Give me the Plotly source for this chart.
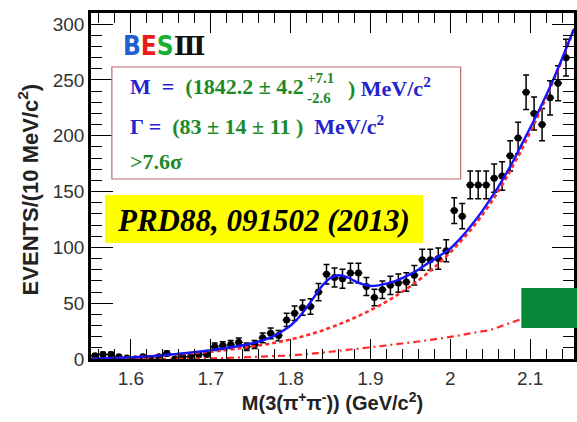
import plotly.graph_objects as go

# ---------------- data ----------------
mass = [1.555, 1.565, 1.575, 1.585, 1.595, 1.605, 1.615, 1.625, 1.635, 1.645,
        1.655, 1.665, 1.675, 1.685, 1.695, 1.705, 1.715, 1.725, 1.735, 1.745,
        1.755, 1.765, 1.775, 1.785, 1.795, 1.805, 1.815, 1.825, 1.835, 1.845,
        1.855, 1.865, 1.875, 1.885, 1.895, 1.905, 1.915, 1.925, 1.935, 1.945,
        1.955, 1.965, 1.975, 1.985, 1.995, 2.005, 2.015, 2.025, 2.035, 2.045,
        2.055, 2.065, 2.075, 2.085, 2.095, 2.105, 2.115, 2.125, 2.135, 2.145]
events = [3, 4, 4, 2, 1, 0, 2, 0, 2, 5,
          0, 2, 2, 4, 4, 11, 12, 13, 15, 11,
          13, 19, 23, 21, 35, 41, 46, 47, 60, 76,
          73, 72, 77, 77, 65, 55, 62, 66, 68, 69,
          75, 89, 89, 90, 97, 133, 128, 156, 156, 156,
          162, 164, 182, 198, 239, 220, 210, 234, 247, 270]
event_err = [1.7, 2.0, 2.0, 1.4, 1.0, 1.0, 1.4, 1.0, 1.4, 2.2,
             1.0, 1.4, 1.4, 2.0, 2.0, 3.3, 3.5, 3.6, 3.9, 3.3,
             3.6, 4.4, 4.8, 4.6, 5.9, 6.4, 6.8, 6.9, 7.7, 8.7,
             8.5, 8.5, 8.8, 8.8, 8.1, 7.4, 7.9, 8.1, 8.2, 8.3,
             8.7, 9.4, 9.4, 9.5, 9.8, 11.5, 11.3, 12.5, 12.5, 12.5,
             12.7, 12.8, 13.5, 14.1, 15.5, 14.8, 14.5, 15.3, 15.7, 16.4]
bin_half = [0.005] * 60

curve_mass = [1.55, 1.56, 1.57, 1.58, 1.59, 1.60, 1.61, 1.62, 1.63, 1.64,
              1.65, 1.66, 1.67, 1.68, 1.69, 1.70, 1.71, 1.72, 1.73, 1.74,
              1.75, 1.76, 1.77, 1.78, 1.79, 1.80, 1.81, 1.82, 1.83, 1.84,
              1.85, 1.86, 1.87, 1.88, 1.89, 1.90, 1.91, 1.92, 1.93, 1.94,
              1.95, 1.96, 1.97, 1.98, 1.99, 2.00, 2.01, 2.02, 2.03, 2.04,
              2.05, 2.06, 2.07, 2.08, 2.09, 2.10, 2.11, 2.12, 2.13, 2.14,
              2.15, 2.155]
total_fit = [0.3, 0.5, 0.7, 0.9, 1.2, 1.5, 1.9, 2.3, 2.8, 3.4,
             4.0, 4.7, 5.4, 6.2, 7.0, 8.0, 9.0, 10.0, 11.0, 12.3,
             13.8, 15.5, 18.0, 21.0, 25.0, 30.0, 37.0, 46.0, 56.0, 66.0,
             72.5, 75.0, 73.5, 70.0, 67.0, 65.5, 66.0, 67.5, 69.5, 72.5,
             76.0, 80.0, 85.0, 89.5, 94.0, 99.0, 106.0, 114.0, 123.0, 132.5,
             143.0, 154.0, 166.0, 179.0, 193.0, 207.0, 221.0, 236.0, 252.0, 269.0,
             287.0, 296.0]
background = [0.3, 0.5, 0.7, 0.9, 1.2, 1.5, 1.9, 2.3, 2.8, 3.2,
              3.7, 4.2, 4.8, 5.4, 6.0, 6.6, 7.3, 8.1, 9.0, 10.0,
              11.0, 12.1, 13.3, 14.6, 16.0, 17.6, 19.3, 21.2, 23.3, 25.6,
              28.2, 30.9, 33.8, 36.9, 40.2, 43.7, 47.4, 51.4, 55.7, 60.3,
              65.2, 70.4, 76.0, 82.0, 88.5, 95.5, 103.0, 111.0, 119.5, 129.0,
              139.0, 150.0, 162.0, 175.0, 188.5, 203.0, 218.0, 234.0, 250.5, 268.0,
              286.0, 295.0]
phase_space = [0.0, 0.0, 0.0, 0.0, 0.0, 0.0, 0.0, 0.0, 0.05, 0.1,
               0.15, 0.2, 0.3, 0.4, 0.5, 0.6, 0.8, 1.0, 1.2, 1.5,
               1.7, 2.0, 2.3, 2.6, 2.9, 3.2, 3.7, 4.3, 5.0, 5.7,
               6.5, 7.3, 8.1, 8.9, 9.7, 10.5, 11.3, 12.1, 13.0, 13.9,
               14.8, 15.7, 16.6, 17.6, 18.7, 19.8, 21.0, 22.3, 23.6, 24.8,
               26.0, 28.5, 31.0, 33.5, 36.0, 38.5, 41.0, 43.5, 46.0, 48.5,
               51.0, 52.0]

# ---------------- figure ----------------
W, H = 577, 422
L, R, T, B = 91, 0, 13, 63

def fx(p):  # pixel x -> paper
    return (p - L) / (W - L - R)

def fy(p):  # pixel y -> paper
    return (H - B - p) / (H - B - T)

fig = go.Figure()

fig.add_trace(go.Scatter(
    x=mass, y=events, mode="markers",
    marker=dict(color="black", size=7, symbol="circle"),
    error_y=dict(type="data", array=event_err, color="black", thickness=1.5, width=3),
    error_x=dict(type="data", array=bin_half, color="black", thickness=1.5, width=0),
    showlegend=False))

fig.add_trace(go.Scatter(
    x=curve_mass, y=phase_space, mode="lines", line_shape="spline",
    line=dict(color="#ff2a2a", width=2.2, dash="7px,4px,2px,4px"), showlegend=False))
fig.add_trace(go.Scatter(
    x=curve_mass, y=background, mode="lines", line_shape="spline",
    line=dict(color="#ff2a2a", width=2.6, dash="4px,3px"), showlegend=False))
fig.add_trace(go.Scatter(
    x=curve_mass, y=total_fit, mode="lines", line_shape="spline",
    line=dict(color="#1414ff", width=2.4), showlegend=False))

tickfont = dict(family="Liberation Sans, Arial, sans-serif", size=19, color="#333333")
titlefont = dict(family="Liberation Sans, Arial, sans-serif", size=20, color="#222222")

fig.update_xaxes(
    range=[1.55, 2.155], dtick=0.1, tick0=1.6,
    ticks="inside", ticklen=20, tickwidth=1.3, tickcolor="black",
    minor=dict(dtick=0.02, ticks="inside", ticklen=10, tickwidth=1.2, tickcolor="black"),
    showline=True, linewidth=3, linecolor="black", mirror="allticks",
    showgrid=False, zeroline=False, tickfont=tickfont,
    title=dict(text="<b>M(3(π<sup>+</sup>π<sup>-</sup>)) (GeV/c<sup>2</sup>)</b>",
               font=titlefont, standoff=6))
fig.update_yaxes(
    range=[0, 310], dtick=50, tick0=0,
    ticks="inside", ticklen=22, tickwidth=1.3, tickcolor="black",
    minor=dict(dtick=10, ticks="inside", ticklen=11, tickwidth=1.2, tickcolor="black"),
    showline=True, linewidth=2.5, linecolor="black", mirror="allticks",
    showgrid=False, zeroline=False, tickfont=tickfont)

shapes = [
    # result box
    dict(type="rect", xref="paper", yref="paper", x0=fx(112), x1=fx(463), y0=fy(67), y1=fy(179),
         line=dict(color="#c06a6a", width=1.2), fillcolor="white", layer="above"),
    # yellow reference box
    dict(type="rect", xref="paper", yref="paper", x0=fx(105), x1=fx(425), y0=fy(195), y1=fy(243),
         line=dict(width=0), fillcolor="#ffff00", layer="above"),
    # green block
    dict(type="rect", xref="paper", yref="paper", x0=fx(524), x1=fx(580), y0=fy(288), y1=fy(328),
         line=dict(width=0), fillcolor="#07873a", layer="above"),
]

BLUE = "#2424c8"
GREEN = "#1d8a2a"
serif = "Liberation Serif, Times New Roman, serif"
sp = "\u00a0"

def note(x, y, text, font, xanchor="left", angle=0, align="left"):
    return dict(x=fx(x), y=fy(y), xref="paper", yref="paper", text=text, font=font,
                showarrow=False, xanchor=xanchor, yanchor="middle", textangle=angle,
                align=align, borderpad=0)

annotations = [
    note(28, 189, "<b>EVENTS/(10 MeV/c<sup>2</sup>)</b>",
         dict(family="Liberation Sans, Arial, sans-serif", size=22, color="#222222"),
         xanchor="center", angle=-90, align="center"),
    note(122, 46,
         ("<span style='color:#1f5fd0'>B</span><span style='color:#e81c1c'>E</span>"
          "<span style='color:#18b030'>S</span><span style='color:#111111;font-family:DejaVu Serif'>Ⅲ</span>"),
         dict(family="Liberation Sans Narrow, DejaVu Sans Condensed, Liberation Sans", size=26,
              weight="bold")),
    note(129, 87,
         (f"<span style='color:{BLUE}'>M{sp}{sp}={sp}{sp}</span>"
          f"<span style='color:{GREEN}'>(1842.2 ± 4.2</span>"),
         dict(family=serif, size=22, weight="bold")),
    note(307, 88, "+7.1<br>-2.6", dict(family=serif, size=15, weight="bold", color=GREEN)),
    note(349, 87,
         (f"<span style='color:{GREEN}'>)</span>"
          f"<span style='color:{BLUE}'> MeV/c<sup>2</sup></span>"),
         dict(family=serif, size=22, weight="bold")),
    note(129, 125,
         (f"<span style='color:{BLUE}'>Γ ={sp}{sp}</span>"
          f"<span style='color:{GREEN}'>(83 ± 14 ± 11 )</span>"
          f"<span style='color:{BLUE}'>{sp}{sp}MeV/c<sup>2</sup></span>"),
         dict(family=serif, size=22, weight="bold")),
    note(129, 161, ">7.6σ", dict(family=serif, size=22, weight="bold", color=GREEN)),
    note(265, 220, "<b><i>PRD88, 091502 (2013)</i></b>",
         dict(family=serif, size=31, color="black"), xanchor="center", align="center"),
]

fig.update_layout(
    width=W, height=H,
    margin=dict(l=L, r=R, t=T, b=B, pad=0),
    paper_bgcolor="white", plot_bgcolor="white",
    shapes=shapes, annotations=annotations,
    showlegend=False,
)

fig.write_html("out.html")
